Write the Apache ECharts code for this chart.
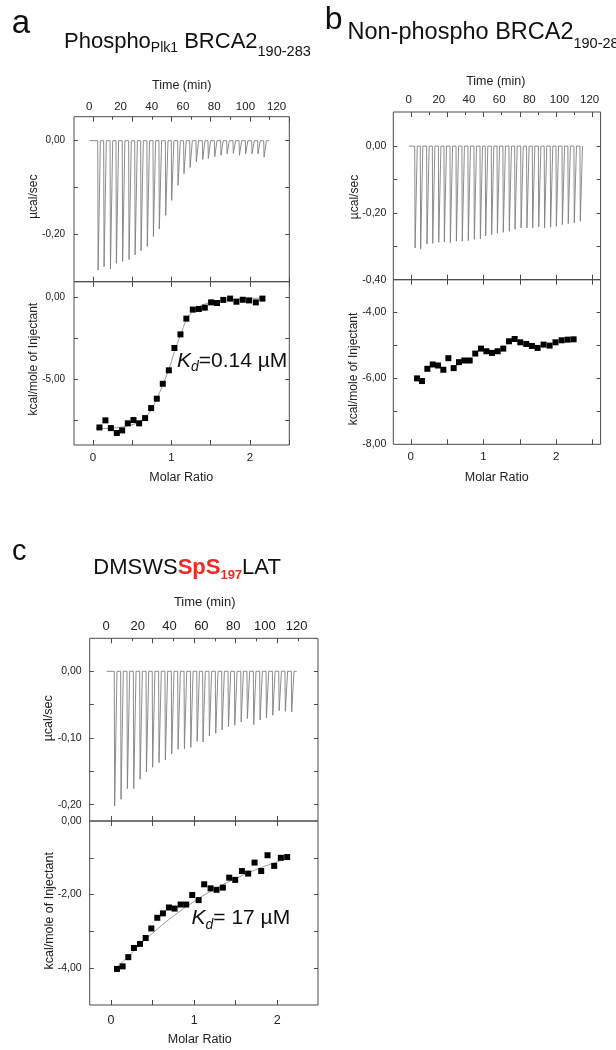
<!DOCTYPE html>
<html><head><meta charset="utf-8">
<script src="https://cdn.jsdelivr.net/npm/echarts@6/dist/echarts.min.js"></script>
<style>html,body{margin:0;padding:0;background:#fff}#c{width:616px;height:1050px}</style>
</head><body><div id="c"></div>
<script>
// ---------- data ----------
const timeTickValues = [0, 20, 40, 60, 80, 100, 120];
const ratioMajorTicks = [0, 0.5, 1, 1.5, 2, 2.5];
const ratioMinorTicks = [0.25, 0.75, 1.25, 1.75, 2.25];
const ratioLabelValues = [0, 1, 2];

// Panel a
const injTimeA = [5.4, 9.2, 13.3, 17.1, 21.1, 25.2, 29.1, 32.9, 36.9, 40.8, 44.6, 48.7, 52.5, 56.6, 60.4, 64.3, 68.3, 72.4, 76.0, 80.1, 84.1, 88.0, 92.0, 95.9, 99.9, 104.0, 107.8, 111.7];
const peakA = [-0.275, -0.268, -0.273, -0.261, -0.257, -0.253, -0.243, -0.234, -0.225, -0.204, -0.188, -0.159, -0.127, -0.095, -0.070, -0.057, -0.045, -0.040, -0.038, -0.034, -0.031, -0.028, -0.027, -0.031, -0.028, -0.028, -0.028, -0.035];
const baselineA = [0, 115];
const ratioA = [0.084, 0.160, 0.229, 0.305, 0.373, 0.445, 0.517, 0.589, 0.665, 0.742, 0.814, 0.890, 0.967, 1.038, 1.115, 1.190, 1.272, 1.349, 1.425, 1.505, 1.580, 1.660, 1.747, 1.827, 1.908, 1.988, 2.074, 2.158];
const heatA = [-7.93, -7.50, -7.97, -8.27, -8.11, -7.68, -7.48, -7.68, -7.36, -6.75, -6.18, -5.27, -4.45, -3.09, -2.26, -1.30, -0.75, -0.71, -0.63, -0.31, -0.35, -0.16, -0.08, -0.27, -0.15, -0.19, -0.31, -0.08];
const fitRatioA = [0.04, 0.23, 0.37, 0.52, 0.59, 0.665, 0.74, 0.81, 0.89, 0.97, 1.04, 1.115, 1.19, 1.27, 1.35, 1.42, 1.6, 1.8, 2.0, 2.16];
const fitHeatA = [-8.0, -7.98, -7.9, -7.74, -7.58, -7.32, -6.87, -6.22, -5.35, -4.34, -3.3, -2.3, -1.4, -0.87, -0.6, -0.42, -0.22, -0.12, -0.07, -0.05];

// Panel b
const injTimeB = [4.0, 7.7, 11.9, 15.7, 19.7, 23.4, 27.4, 31.4, 35.3, 39.3, 43.3, 47.3, 50.8, 54.8, 58.6, 62.5, 66.5, 70.3, 74.3, 78.2, 82.0, 86.0, 89.9, 93.9, 97.7, 101.7, 105.6, 109.6, 113.6];
const peakB = [-0.305, -0.308, -0.293, -0.291, -0.288, -0.287, -0.289, -0.285, -0.285, -0.283, -0.279, -0.278, -0.269, -0.265, -0.261, -0.258, -0.255, -0.249, -0.245, -0.245, -0.245, -0.242, -0.245, -0.243, -0.240, -0.235, -0.232, -0.230, -0.225];
const baselineB = [0, 115];
const ratioB = [0.087, 0.155, 0.228, 0.302, 0.375, 0.448, 0.517, 0.590, 0.663, 0.736, 0.810, 0.887, 0.966, 1.040, 1.117, 1.195, 1.272, 1.350, 1.428, 1.506, 1.588, 1.666, 1.744, 1.826, 1.909, 1.990, 2.074, 2.157, 2.239];
const heatB = [-6.01, -6.09, -5.72, -5.59, -5.62, -5.75, -5.40, -5.70, -5.52, -5.47, -5.47, -5.26, -5.11, -5.19, -5.24, -5.19, -5.11, -4.89, -4.82, -4.92, -4.97, -5.03, -5.09, -4.99, -5.02, -4.92, -4.86, -4.84, -4.83];

// Panel c
const injTimeC = [5.2, 9.2, 13.2, 17.2, 21.2, 25.2, 29.1, 33.1, 37.1, 41.1, 45.1, 49.1, 53.1, 57.1, 60.8, 64.8, 68.8, 72.8, 76.8, 80.8, 84.8, 88.7, 92.7, 96.7, 100.7, 104.7, 108.7, 112.6, 116.6];
const peakC = [-0.202, -0.192, -0.176, -0.176, -0.162, -0.151, -0.144, -0.137, -0.133, -0.124, -0.117, -0.116, -0.114, -0.105, -0.106, -0.097, -0.093, -0.088, -0.083, -0.081, -0.076, -0.071, -0.080, -0.073, -0.070, -0.066, -0.059, -0.060, -0.061];
const baselineC = [0.4, 120];
const ratioC = [0.072, 0.140, 0.208, 0.276, 0.349, 0.417, 0.485, 0.557, 0.625, 0.697, 0.765, 0.838, 0.905, 0.977, 1.054, 1.121, 1.198, 1.270, 1.346, 1.422, 1.494, 1.575, 1.650, 1.727, 1.807, 1.883, 1.963, 2.043, 2.119];
const heatC = [-4.02, -3.95, -3.70, -3.45, -3.34, -3.18, -2.92, -2.63, -2.51, -2.35, -2.38, -2.27, -2.27, -2.01, -2.15, -1.72, -1.83, -1.87, -1.81, -1.54, -1.60, -1.36, -1.43, -1.13, -1.36, -0.93, -1.22, -1.00, -0.98];
const fitRatioC = [0.05, 0.2, 0.35, 0.5, 0.65, 0.8, 0.95, 1.1, 1.25, 1.4, 1.55, 1.7, 1.85, 2.0, 2.12];
const fitHeatC = [-4.02, -3.70, -3.36, -3.05, -2.76, -2.50, -2.26, -2.04, -1.85, -1.67, -1.51, -1.36, -1.23, -1.11, -1.02];

// axis tick / label values
const yTopTicksA = [-0.3, -0.2, -0.1, 0], yTopLabelsA = [-0.2, 0];
const yBotTicksA = [-7.5, -5, -2.5, 0], yBotLabelsA = [-5, 0];
const yTopTicksB = [-0.3, -0.2, -0.1, 0], yTopLabelsB = [-0.4, -0.2, 0];
const yBotTicksB = [-7, -6, -5, -4], yBotLabelsB = [-8, -6, -4];
const yTopTicksC = [-0.2, -0.15, -0.1, -0.05, 0], yTopLabelsC = [-0.2, -0.1, 0];
const yBotTicksC = [-4, -3, -2, -1], yBotLabelsC = [-4, -2, 0];

// ---------- build ----------
const FF = "'Liberation Sans', Arial, sans-serif";
const INK = '#111';
const FRAME = '#4a4a4a';

const panels = [
  { left: 74, width: 215.3, top: 116.7, hT: 165, hB: 163.3,
    time: [-9.8, 128.1], ratio: [-0.24, 2.5], yT: [-0.30, 0.051], yB: [-9.0, 0.95],
    yTT: yTopTicksA, yTL: yTopLabelsA, yBT: yBotTicksA, yBL: yBotLabelsA,
    inj: injTimeA, peak: peakA, base: baselineA, rx: ratioA, hy: heatA, fx: fitRatioA, fy: fitHeatA,
    tFont: 11.5, tMargin: 4, rFont: 11.5, rMargin: 7, yFont: 10, yMargin: 9 },
  { left: 393.3, width: 207.3, top: 112, hT: 167.7, hB: 164.6,
    time: [-10.2, 127.3], ratio: [-0.24, 2.61], yT: [-0.40, 0.102], yB: [-8.0, -3.03],
    yTT: yTopTicksB, yTL: yTopLabelsB, yBT: yBotTicksB, yBL: yBotLabelsB,
    inj: injTimeB, peak: peakB, base: baselineB, rx: ratioB, hy: heatB, fx: null, fy: null,
    tFont: 11.5, tMargin: 6, rFont: 11.5, rMargin: 7, yFont: 10.5, yMargin: 7 },
  { left: 89.7, width: 228.3, top: 638.3, hT: 182.7, hB: 184,
    time: [-10.26, 133.4], ratio: [-0.256, 2.49], yT: [-0.2245, 0.0495], yB: [-5.0, 0.0],
    yTT: yTopTicksC, yTL: yTopLabelsC, yBT: yBotTicksC, yBL: yBotLabelsC,
    inj: injTimeC, peak: peakC, base: baselineC, rx: ratioC, hy: heatC, fx: fitRatioC, fy: fitHeatC,
    tFont: 13, tMargin: 5, rFont: 12.5, rMargin: 9, yFont: 10.5, yMargin: 8 }
];

const option = { animation: false, grid: [], xAxis: [], yAxis: [], series: [], graphic: [] };

function addGrid(r, show) {
  option.grid.push({ left: r[0], top: r[1], width: r[2], height: r[3], show: show,
    borderColor: FRAME, borderWidth: 1, backgroundColor: 'transparent' });
  return option.grid.length - 1;
}
function tick(values, len) {
  return { show: true, inside: true, length: len, customValues: values, lineStyle: { color: FRAME, width: 1 } };
}
const noTick = { show: false };
const noLabel = { show: false };
const noSplit = { show: false };
function axis(list, o) {
  list.push(Object.assign({ type: 'value', axisLine: { show: false, onZero: false }, splitLine: noSplit, axisPointer: { show: false } }, o));
  return list.length - 1;
}
const fmtY = v => v.toFixed(2).replace('.', ',');

function thermogram(times, peaks, base) {
  const pts = [[base[0], 0]];
  times.forEach((t, i) => { pts.push([t, 0], [t + 0.25, peaks[i]], [t + 1.7, 0]); });
  pts.push([base[1], 0]);
  return pts;
}
function pairs(xs, ys) { return xs.map((x, i) => [x, ys[i]]); }

panels.forEach(p => {
  const rT = [p.left, p.top, p.width, p.hT];
  const rB = [p.left, p.top + p.hT, p.width, p.hB];
  const g1 = addGrid(rT, true);
  const g2 = addGrid(rT, false);
  const g3 = addGrid(rT, false);
  const g4 = addGrid(rB, true);

  const xt = axis(option.xAxis, { gridIndex: g1, position: 'top', min: p.time[0], max: p.time[1],
    axisTick: noTick,
    axisLabel: { customValues: timeTickValues, margin: p.tMargin, fontSize: p.tFont, fontFamily: FF, color: '#222' } });
  axis(option.xAxis, { gridIndex: g1, position: 'bottom', min: p.ratio[0], max: p.ratio[1],
    axisTick: tick(ratioMajorTicks, 5), axisLabel: noLabel });
  const yt = axis(option.yAxis, { gridIndex: g1, position: 'left', min: p.yT[0], max: p.yT[1],
    axisTick: tick(p.yTT, 4),
    axisLabel: { customValues: p.yTL, formatter: fmtY, margin: p.yMargin, fontSize: p.yFont, fontFamily: FF, color: '#222' } });
  axis(option.yAxis, { gridIndex: g1, position: 'right', min: p.yT[0], max: p.yT[1],
    axisTick: tick(p.yTT, 4), axisLabel: noLabel });

  axis(option.xAxis, { gridIndex: g2, position: 'top', min: p.ratio[0], max: p.ratio[1],
    axisTick: tick(ratioMajorTicks, 5), axisLabel: noLabel });
  axis(option.yAxis, { gridIndex: g2, show: false, min: 0, max: 1 });
  axis(option.xAxis, { gridIndex: g3, position: 'top', min: p.ratio[0], max: p.ratio[1],
    axisTick: tick(ratioMinorTicks, 3), axisLabel: noLabel });
  axis(option.yAxis, { gridIndex: g3, show: false, min: 0, max: 1 });

  const xr = axis(option.xAxis, { gridIndex: g4, position: 'bottom', min: p.ratio[0], max: p.ratio[1],
    axisTick: tick(ratioMajorTicks, 5),
    axisLabel: { customValues: ratioLabelValues, margin: p.rMargin, fontSize: p.rFont, fontFamily: FF, color: '#222' } });
  axis(option.xAxis, { gridIndex: g4, position: 'top', min: p.ratio[0], max: p.ratio[1],
    axisTick: tick(ratioMajorTicks, 5), axisLabel: noLabel });
  const yb = axis(option.yAxis, { gridIndex: g4, position: 'left', min: p.yB[0], max: p.yB[1],
    axisTick: tick(p.yBT, 4),
    axisLabel: { customValues: p.yBL, formatter: fmtY, margin: p.yMargin, fontSize: p.yFont, fontFamily: FF, color: '#222' } });
  axis(option.yAxis, { gridIndex: g4, position: 'right', min: p.yB[0], max: p.yB[1],
    axisTick: tick(p.yBT, 4), axisLabel: noLabel });

  option.series.push({ type: 'line', xAxisIndex: xt, yAxisIndex: yt, data: thermogram(p.inj, p.peak, p.base),
    showSymbol: false, symbol: 'none', lineStyle: { color: '#808080', width: 0.9 }, silent: true, clip: true });
  if (p.fx) {
    option.series.push({ type: 'line', xAxisIndex: xr, yAxisIndex: yb, data: pairs(p.fx, p.fy), smooth: 0.4,
      showSymbol: false, symbol: 'none', lineStyle: { color: '#9a9a9a', width: 1 }, silent: true, z: 1 });
  }
  option.series.push({ type: 'scatter', xAxisIndex: xr, yAxisIndex: yb, data: pairs(p.rx, p.hy),
    symbol: 'rect', symbolSize: 6, itemStyle: { color: '#000', opacity: 1 }, silent: true, z: 3 });
});

// ---------- text ----------
function rich(x, y, text, richStyles) {
  return { type: 'text', x: x, y: y, z: 100, silent: true,
    style: { x: 0, y: 0, text: text, rich: richStyles, align: 'left', verticalAlign: 'top', fontFamily: FF, fill: INK } };
}
function label(x, y, text, size, rot) {
  return { type: 'text', x: x, y: y, rotation: rot || 0, z: 100, silent: true,
    style: { x: 0, y: 0, text: text, fontSize: size, fontFamily: FF, fill: '#222', align: 'center', verticalAlign: 'middle' } };
}
const T = (fs, p, extra) => Object.assign({ fontSize: fs, fontFamily: FF, fill: INK, verticalAlign: 'top', padding: [p || 0, 0, 0, 0] }, extra || {});
const R90 = Math.PI / 2;
const RED = '#ee2b22';

option.graphic = [
  rich(11.7, 7.1, '{l|a}', { l: T(33) }),
  rich(324.7, 4.6, '{l|b}', { l: T(32) }),
  rich(12, 537.2, '{l|c}', { l: T(29) }),
  rich(64, 30.7, '{m|Phospho}{s1|Plk1}{m| BRCA2}{s2|190-283}',
    { m: T(22), s1: T(14, 10.75), s2: T(14.5, 13.7) }),
  rich(347.5, 20.1, '{m|Non-phospho BRCA2}{s|190-283}',
    { m: T(23.5), s: T(14.5, 15.9) }),
  rich(93.3, 557.1, '{m|DMSWS}{r|SpS}{rs|197}{m|LAT}',
    { m: T(22), r: T(22, 0, { fill: RED, fontWeight: 'bold' }), rs: T(13, 11.9, { fill: RED, fontWeight: 'bold' }) }),
  rich(177, 350.5, '{k|K}{d|d}{t|=0.14 µM}',
    { k: T(21, 0, { fontStyle: 'italic' }), d: T(14, 9.4, { fontStyle: 'italic' }), t: T(21) }),
  rich(191.5, 907.9, '{k|K}{d|d}{t|= 17 µM}',
    { k: T(21, 0, { fontStyle: 'italic' }), d: T(14, 10.2, { fontStyle: 'italic' }), t: T(21) }),
  label(181.7, 86, 'Time (min)', 12.5),
  label(33.3, 196.7, 'µcal/sec', 12, R90),
  label(33.3, 359.2, 'kcal/mole of Injectant', 12, R90),
  label(181.3, 477.7, 'Molar Ratio', 12.5),
  label(495.8, 81.7, 'Time (min)', 12.5),
  label(355, 197, 'µcal/sec', 12, R90),
  label(353.3, 369, 'kcal/mole of Injectant', 12, R90),
  label(496.7, 477.3, 'Molar Ratio', 12.5),
  label(204.7, 602.7, 'Time (min)', 13),
  label(48.3, 718.3, 'µcal/sec', 12.5, R90),
  label(50, 910.8, 'kcal/mole of Injectant', 12.5, R90),
  label(199.7, 1040, 'Molar Ratio', 12.5)
];

const chart = echarts.init(document.getElementById('c'), null, { renderer: 'canvas' });
chart.setOption(option);
</script>
</body></html>
